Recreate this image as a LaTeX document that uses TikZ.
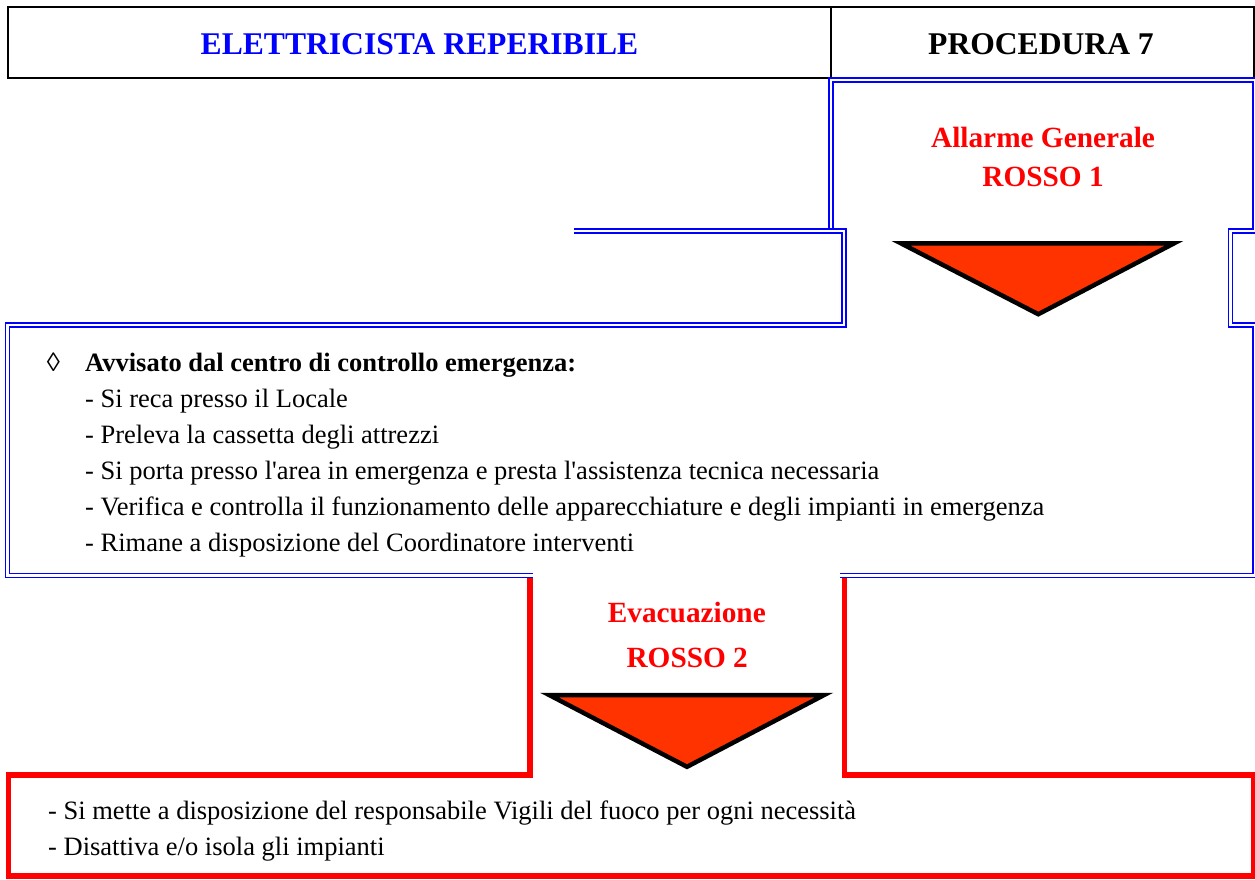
\documentclass[tikz,border=0pt]{standalone}
\usepackage{fontspec}
\setmainfont{Liberation Serif}[Ligatures=TeXOff]
\definecolor{bluL}{RGB}{0,0,255}
\definecolor{redL}{RGB}{255,0,0}
\definecolor{triL}{RGB}{255,51,0}
\begin{document}
\begin{tikzpicture}[x=1pt,y=-1pt,
  hdr/.style={line width=2pt,draw=black},
  dbl/.style={draw=bluL,line width=1.8pt,double=white,double distance=2.2pt,line join=miter},
  redline/.style={draw=redL,line width=5.5pt,line join=miter},
  tri/.style={draw=black,fill=triL,line width=4.5pt,line join=miter},
  htext/.style={inner sep=0pt,anchor=base,font=\fontsize{31.6}{38}\selectfont\bfseries},
  rtext/.style={inner sep=0pt,anchor=base,text=redL,font=\fontsize{29.3}{35}\selectfont\bfseries},
  btext/.style={inner sep=0pt,anchor=base west,font=\fontsize{26.5}{36}\selectfont}
]
\useasboundingbox (0,0) rectangle (1255,879);
\fill[white] (0,0) rectangle (1255,879);

% header
\draw[hdr] (8.3,7) rectangle (1254,77.7);
\draw[hdr] (831,7) -- (831,77.7);
\node[htext,text=bluL] (title) at (419.5,54.3) {ELETTRICISTA REPERIBILE};
\node[htext] (proc) at (1041,54.3) {PROCEDURA 7};

% red frame
\draw[redline] (530,576) -- (530,775) -- (8.5,775) -- (8.5,876) -- (1254,876) -- (1254,775) -- (844.5,775) -- (844.5,576);

% blue double outline
\draw[dbl] (840,575.5) -- (1255,575.5) -- (1255,325) -- (1230.5,325) -- (1230.5,231) -- (1255,231) -- (1255,80) -- (831,80) -- (831,231);
\draw[dbl] (533,575.5) -- (7.5,575.5) -- (7.5,325) -- (844,325) -- (844,231) -- (574,231);

% triangles
\draw[tri] (900.9,243.3) -- (1174.1,243.3) -- (1038.3,314.2) -- cycle;
\draw[tri] (549.2,695) -- (824.1,695) -- (687,766.8) -- cycle;

% red labels
\node[rtext] (al1) at (1043,147.3) {Allarme Generale};
\node[rtext] (al2) at (1043,186.7) {ROSSO 1};
\node[rtext] (ev1) at (686.8,622.7) {Evacuazione};
\node[rtext] (ev2) at (687.2,667.3) {ROSSO 2};

% body text
\node[inner sep=0pt,anchor=base,font=\fontsize{26.5}{36}\selectfont] (dia) at (53.5,371) {◊};
\node[btext,font=\fontsize{26.5}{36}\selectfont\bfseries] (l0) at (85,371) {Avvisato dal centro di controllo emergenza:};
\node[btext] (l1) at (85,407) {- Si reca presso il Locale};
\node[btext] (l2) at (85,443) {- Preleva la cassetta degli attrezzi};
\node[btext] (l3) at (85,479) {- Si porta presso l'area in emergenza e presta l'assistenza tecnica necessaria};
\node[btext] (l4) at (85,515) {- Verifica e controlla il funzionamento delle apparecchiature e degli impianti in emergenza};
\node[btext] (l5) at (85,551) {- Rimane a disposizione del Coordinatore interventi};

\node[btext] (m1) at (48,819) {- Si mette a disposizione del responsabile Vigili del fuoco per ogni necessità};
\node[btext] (m2) at (48,855) {- Disattiva e/o isola gli impianti};
\end{tikzpicture}
\end{document}
